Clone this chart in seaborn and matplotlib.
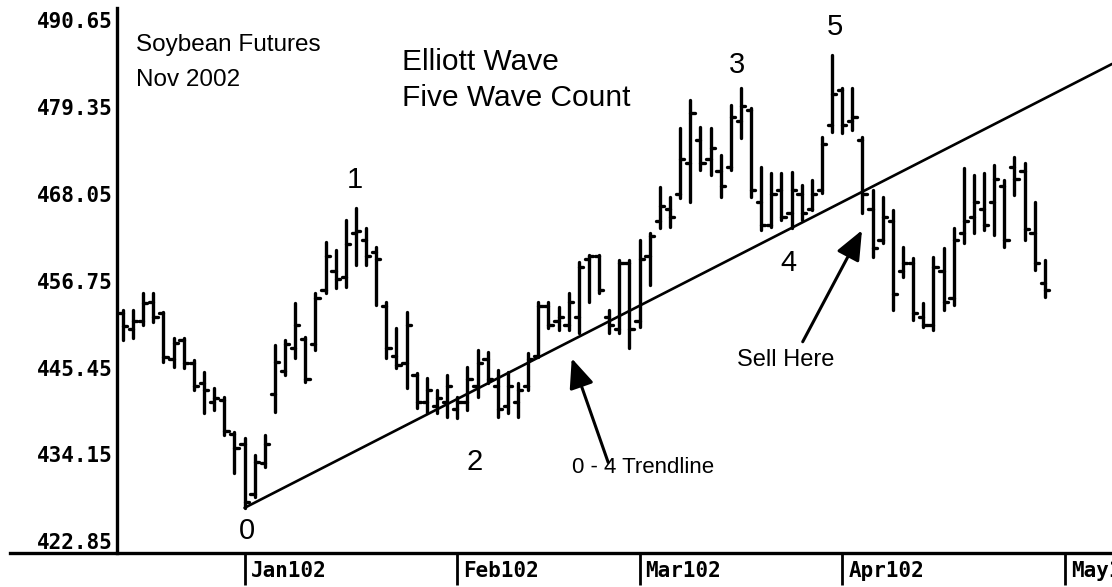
import numpy as np
import pandas as pd
import matplotlib
matplotlib.use("Agg")
import matplotlib.pyplot as plt
import matplotlib.transforms as mtransforms
import seaborn as sns

# Nov 2002 soybean futures, daily sessions from mid-December 2001 to late April 2002
opens = [452.5, 450.5, 451.5, 454.0, 452.5, 446.5, 449.0, 446.0, 443.5, 441.0,
         441.2, 436.8, 435.5, 429.0, 433.0, 442.0, 445.0, 448.0, 449.2, 448.5,
         455.5, 458.0, 457.2, 463.0, 462.0, 460.5, 453.5, 447.0, 446.0, 444.5,
         441.0, 440.5, 441.0, 440.0, 441.0, 443.0, 446.5, 443.0, 440.5, 441.0,
         443.0, 447.0, 453.5, 451.5, 451.0, 452.0, 459.5, 460.0, 452.0, 450.5,
         459.0, 451.5, 460.0, 464.5, 466.0, 468.0, 472.0, 475.0, 472.5, 471.0,
         471.5, 477.5, 479.0, 467.0, 464.0, 468.5, 465.5, 468.0, 466.0, 468.5,
         477.0, 481.5, 477.5, 475.0, 466.0, 462.0, 464.5, 458.0, 459.0, 452.0,
         451.0, 458.0, 454.5, 463.0, 465.0, 466.0, 467.0, 469.0, 471.5, 471.0,
         463.0, 456.5]
highs = [452.9, 452.9, 455.1, 455.1, 452.7, 449.3, 449.3, 446.4, 444.9, 442.8,
         441.6, 437.1, 436.3, 434.1, 436.7, 448.4, 449.0, 453.8, 449.4, 455.1,
         461.8, 460.7, 464.6, 466.2, 463.6, 461.1, 454.0, 450.6, 452.7, 444.7,
         444.1, 442.5, 444.5, 441.6, 445.5, 447.7, 447.5, 445.1, 444.9, 443.4,
         447.3, 454.0, 454.0, 453.3, 455.1, 459.2, 460.1, 460.1, 452.9, 459.4,
         459.4, 462.0, 462.9, 468.9, 467.6, 476.6, 480.2, 476.7, 476.6, 473.1,
         479.6, 481.8, 479.2, 471.5, 470.7, 470.7, 470.9, 469.2, 469.8, 475.4,
         486.1, 481.8, 481.8, 475.4, 468.5, 467.6, 465.9, 461.1, 459.7, 453.8,
         459.8, 461.0, 463.6, 471.4, 470.5, 470.7, 471.8, 469.8, 472.8, 472.0,
         467.0, 459.4]
lows = [449.0, 449.3, 451.0, 451.4, 446.2, 445.5, 445.4, 442.5, 439.5, 439.9,
        436.7, 431.7, 427.2, 428.6, 432.5, 439.7, 444.5, 446.7, 443.6, 447.7,
        455.1, 455.8, 455.9, 458.8, 458.8, 453.6, 446.7, 445.4, 442.8, 440.2,
        439.5, 439.5, 439.0, 438.9, 439.9, 441.6, 443.4, 439.0, 439.5, 439.0,
        442.5, 446.8, 450.6, 450.3, 450.3, 449.9, 454.0, 455.1, 449.9, 449.9,
        448.0, 450.7, 456.2, 463.6, 463.7, 467.5, 467.0, 471.1, 470.5, 467.6,
        471.1, 475.3, 467.6, 463.3, 463.7, 464.6, 463.6, 464.6, 465.9, 468.1,
        476.1, 475.9, 476.3, 465.5, 459.8, 461.6, 452.9, 457.2, 451.6, 450.7,
        450.3, 452.9, 453.6, 461.6, 462.9, 463.3, 462.7, 461.1, 467.9, 462.0,
        458.1, 454.6]
closes = [450.8, 451.5, 453.8, 452.0, 446.8, 448.6, 446.0, 443.0, 442.5, 441.5,
          437.2, 435.0, 428.0, 433.2, 435.5, 446.2, 448.5, 451.0, 444.0, 454.5,
          460.0, 457.0, 461.5, 463.2, 460.0, 459.5, 448.0, 445.8, 451.0, 441.0,
          442.5, 441.5, 443.0, 441.0, 444.0, 446.0, 444.0, 440.0, 443.0, 442.5,
          446.5, 453.5, 451.0, 452.0, 454.0, 458.5, 460.0, 455.5, 451.0, 459.0,
          450.5, 459.5, 462.5, 466.5, 465.0, 472.5, 478.5, 472.0, 474.0, 469.0,
          478.0, 479.5, 468.5, 464.0, 468.0, 465.0, 468.5, 465.5, 468.0, 474.5,
          481.0, 477.0, 478.0, 468.0, 461.0, 465.0, 455.0, 459.0, 452.5, 451.0,
          458.5, 454.0, 462.0, 464.5, 467.0, 464.0, 470.0, 462.0, 470.0, 463.5,
          459.0, 455.5]

month_sessions = [12, 33, 51, 71, 93]
month_labels = ["Jan102", "Feb102", "Mar102", "Apr102", "May102"]
price_ticks = [422.85, 434.15, 445.45, 456.75, 468.05, 479.35, 490.65]

# Elliott wave pivots: sessions of waves 0 and 4 define the trendline
wave0_session = 12
wave4_session = 66

sns.set_style("white")
plt.rcParams["font.family"] = ["Liberation Sans", "DejaVu Sans"]
plt.rcParams["text.color"] = "black"
plt.rcParams["xtick.color"] = "black"
plt.rcParams["ytick.color"] = "black"
plt.rcParams["axes.labelcolor"] = "black"

fig = plt.figure(figsize=(11.12, 5.87), dpi=100)
ax = fig.add_axes([10 / 1112, 34 / 587, 1102 / 1112, 545 / 587])
x_left, x_right = -11.15, 97.63
ax.set_xlim(x_left, x_right)
ax.set_ylim(421.33, 492.2)

# OHLC bars as individual segments: high-low range, open tick left, close tick right
rows = []
for i in range(len(highs)):
    rows += [(f"r{i}", i, highs[i]), (f"r{i}", i, lows[i])]
    rows += [(f"o{i}", i - 0.42, opens[i]), (f"o{i}", i, opens[i])]
    rows += [(f"c{i}", i, closes[i]), (f"c{i}", i + 0.42, closes[i])]
seg = pd.DataFrame(rows, columns=["seg", "session", "price"])
sns.lineplot(data=seg, x="session", y="price", units="seg", estimator=None,
             sort=False, color="black", lw=2.4, ax=ax, legend=False)

# 0-4 trendline extended to the right edge
slope = (lows[wave4_session] - lows[wave0_session]) / (wave4_session - wave0_session)
trend = pd.DataFrame({
    "session": [wave0_session, x_right],
    "price": [lows[wave0_session], lows[wave0_session] + slope * (x_right - wave0_session)],
})
sns.lineplot(data=trend, x="session", y="price", color="black", lw=1.9, ax=ax,
             estimator=None, sort=False)

# Axes styling
for side in ("top", "right"):
    ax.spines[side].set_visible(False)
ax.spines["left"].set_position(("data", -0.59))
for side in ("left", "bottom"):
    ax.spines[side].set_linewidth(2.4)
    ax.spines[side].set_color("black")
ax.set_xlabel("")
ax.set_ylabel("")

ax.set_yticks(price_ticks, [f"{v:.2f}" for v in price_ticks])
ax.tick_params(axis="y", left=False, length=0, pad=3, labelcolor="black")
for lbl in ax.get_yticklabels():
    lbl.set_fontfamily("DejaVu Sans Mono")
    lbl.set_fontweight("bold")
    lbl.set_fontsize(15)

ax.set_xticks(month_sessions, month_labels)
ax.tick_params(axis="x", bottom=True, length=23, width=2, direction="out",
               color="black", pad=-17, labelcolor="black")
offset = mtransforms.ScaledTranslation(6 / 100, 0, fig.dpi_scale_trans)
for lbl in ax.get_xticklabels():
    lbl.set_fontfamily("DejaVu Sans Mono")
    lbl.set_fontweight("bold")
    lbl.set_fontsize(15)
    lbl.set_horizontalalignment("left")
    lbl.set_transform(lbl.get_transform() + offset)

# Titles inside the plot
ax.text(1.28, 487.4, "Soybean Futures", fontsize=17.5, ha="left", va="center")
ax.text(1.28, 482.8, "Nov 2002", fontsize=17.5, ha="left", va="center")
ax.text(27.5, 485.2, "Elliott Wave", fontsize=21.5, ha="left", va="center")
ax.text(27.5, 480.5, "Five Wave Count", fontsize=21.5, ha="left", va="center")

# Wave count labels
wave_text = ["0", "1", "2", "3", "4", "5"]
wave_pos = [(12.24, 424.2), (22.9, 469.8), (34.75, 433.1), (60.6, 484.8), (65.65, 459.1), (70.3, 489.7)]
for t, (xs, yp) in zip(wave_text, wave_pos):
    ax.text(xs, yp, t, fontsize=21, ha="center", va="center")

# Callouts with arrows
arrow = dict(arrowstyle="-|>,head_length=0.9,head_width=0.38", lw=2.2, color="black",
             mutation_scale=20, shrinkA=0, shrinkB=0)
ax.annotate("", xy=(44.3, 446.65), xytext=(47.9, 433.1), arrowprops=arrow)
ax.text(44.3, 432.4, "0 - 4 Trendline", fontsize=16, ha="left", va="center")
ax.annotate("", xy=(72.95, 463.3), xytext=(67.1, 448.8), arrowprops=arrow)
ax.text(60.6, 446.4, "Sell Here", fontsize=17, ha="left", va="center")

fig.savefig("out.png", dpi=100, facecolor="white")
